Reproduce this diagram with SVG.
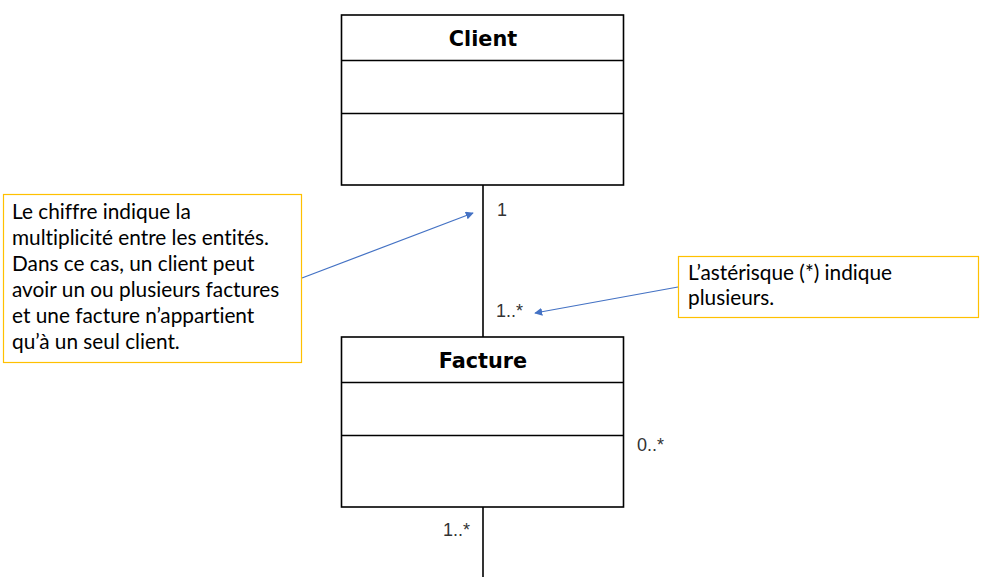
<svg xmlns="http://www.w3.org/2000/svg" width="990" height="577" viewBox="0 0 990 577">
<defs>
<style>
.cls{fill:#fff;stroke:#000;stroke-width:1.6}
.div{stroke:#000;stroke-width:1.6}
.title{font-family:"DejaVu Sans",sans-serif;font-weight:bold;font-size:20.8px;text-anchor:middle;fill:#000}
.mult{font-family:"Liberation Sans",Arial,sans-serif;font-size:18px;fill:#333}
.note{fill:#fff;stroke:#FFC000;stroke-width:1.2}
.ntext{font-family:Lato,"Open Sans",sans-serif;font-size:20.8px;fill:#000;font-variant-ligatures:none}
.assoc{stroke:#000;stroke-width:1.6;fill:none}
.pointer{stroke:#4472C4;stroke-width:1.2;fill:none;marker-end:url(#arr)}
</style>
<marker id="arr" viewBox="0 0 10 10" refX="9" refY="5" markerWidth="8" markerHeight="8" markerUnits="userSpaceOnUse" orient="auto">
<path d="M0,0 L10,5 L0,10 Z" fill="#4472C4"/>
</marker>
</defs>
<g id="connectors">
<line class="assoc" x1="483" y1="185" x2="483" y2="337"/>
<line class="assoc" x1="483" y1="507" x2="483" y2="577"/>
<line class="pointer" x1="302" y1="278" x2="473" y2="213"/>
<line class="pointer" x1="678" y1="287" x2="535" y2="313"/>
<text class="mult" x="497" y="216">1</text>
<text class="mult" x="496" y="317">1..*</text>
<text class="mult" x="637" y="451">0..*</text>
<text class="mult" x="443" y="536">1..*</text>
</g>
<g id="client">
<rect class="cls" x="341.5" y="15" width="282" height="170"/>
<line class="div" x1="341.5" y1="60.5" x2="623.5" y2="60.5"/>
<line class="div" x1="341.5" y1="113.5" x2="623.5" y2="113.5"/>
<text class="title" x="483" y="46">Client</text>
</g>
<g id="facture">
<rect class="cls" x="341.5" y="337" width="282" height="170"/>
<line class="div" x1="341.5" y1="382.5" x2="623.5" y2="382.5"/>
<line class="div" x1="341.5" y1="435.5" x2="623.5" y2="435.5"/>
<text class="title" x="483" y="368">Facture</text>
</g>
<g id="note-multiplicite">
<rect class="note" x="3.5" y="194.5" width="298" height="168"/>
<text class="ntext">
<tspan x="12" y="219">Le chiffre indique la</tspan>
<tspan x="12" y="245">multiplicité entre les entités.</tspan>
<tspan x="12" y="271">Dans ce cas, un client peut</tspan>
<tspan x="12" y="297">avoir un ou plusieurs factures</tspan>
<tspan x="12" y="323">et une facture n’appartient</tspan>
<tspan x="12" y="349">qu’à un seul client.</tspan>
</text>
</g>
<g id="note-asterisque">
<rect class="note" x="678.5" y="256.5" width="300" height="61"/>
<text class="ntext">
<tspan x="688" y="280">L’astérisque (*) indique</tspan>
<tspan x="688" y="305">plusieurs.</tspan>
</text>
</g>
</svg>
